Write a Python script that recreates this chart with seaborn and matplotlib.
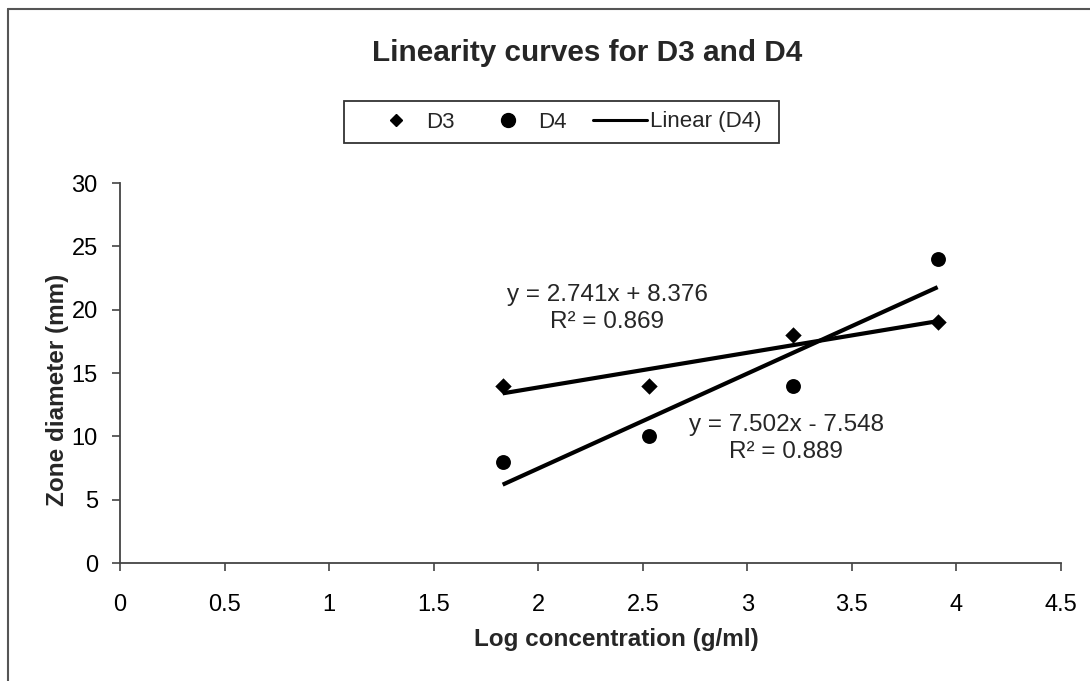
import numpy as np
import pandas as pd
import matplotlib
matplotlib.use("Agg")
import matplotlib.pyplot as plt
import seaborn as sns
from matplotlib.lines import Line2D
from matplotlib.patches import Rectangle

# ---- data ----
log_conc = [1.83, 2.53, 3.22, 3.91]
d3_zone = [14, 14, 18, 19]
d4_zone = [8, 10, 14, 24]
x_ticks = [0, 0.5, 1, 1.5, 2, 2.5, 3, 3.5, 4, 4.5]
y_ticks = [0, 5, 10, 15, 20, 25, 30]
eq_d3 = ["y = 2.741x + 8.376", "R\u00b2 = 0.869"]
eq_d4 = ["y = 7.502x - 7.548", "R\u00b2 = 0.889"]

df = pd.DataFrame({"x": log_conc, "D3": d3_zone, "D4": d4_zone})

sns.set_style("ticks")
plt.rcParams["font.family"] = ["Liberation Sans", "DejaVu Sans"]

W, H = 1090, 681
fig = plt.figure(figsize=(10.9, 6.81), dpi=100)
ax = fig.add_axes([120 / W, 1 - 563 / H, 941 / W, 380 / H])

sns.scatterplot(data=df, x="x", y="D3", marker="D", s=70, color="black",
                edgecolor="black", linewidth=0, ax=ax, zorder=3)
sns.scatterplot(data=df, x="x", y="D4", marker="o", s=115, color="black",
                edgecolor="black", linewidth=0, ax=ax, zorder=3)
sns.regplot(data=df, x="x", y="D3", scatter=False, ci=None, ax=ax,
            line_kws=dict(color="black", linewidth=3.0, solid_capstyle="butt"))
sns.regplot(data=df, x="x", y="D4", scatter=False, ci=None, ax=ax,
            line_kws=dict(color="black", linewidth=3.0, solid_capstyle="butt"))

ax.set_xlim(0, 4.5)
ax.set_ylim(0, 30)
ax.set_xticks(x_ticks)
ax.set_xticklabels([f"{t:g}" for t in x_ticks], fontsize=17)
ax.set_yticks(y_ticks)
ax.set_yticklabels([str(t) for t in y_ticks], fontsize=17)
ax.tick_params(axis="both", direction="out", length=6, width=1.2,
               color="#444444", labelcolor="black")
ax.tick_params(axis="x", pad=16)
ax.tick_params(axis="y", pad=10)
for side in ["top", "right"]:
    ax.spines[side].set_visible(False)
for side in ["left", "bottom"]:
    ax.spines[side].set_color("#444444")
    ax.spines[side].set_linewidth(1.3)

ax.set_xlabel("Log concentration (g/ml)", fontsize=17.5, fontweight="bold")
ax.set_ylabel("Zone diameter (mm)", fontsize=17.5, fontweight="bold")
ax.xaxis.set_label_coords(0.527, -0.171)
ax.yaxis.set_label_coords(-0.054, 0.455)

# trendline equations
ax.text(2.33, 21.15, eq_d3[0], ha="center", va="center", fontsize=17.5)
ax.text(2.33, 19.0, eq_d3[1], ha="center", va="center", fontsize=17.5)
ax.text(3.185, 10.9, eq_d4[0], ha="center", va="center", fontsize=17.5)
ax.text(3.185, 8.76, eq_d4[1], ha="center", va="center", fontsize=17.5)

fig.text(587 / W, 1 - 53 / H, "Linearity curves for D3 and D4", ha="center",
         va="center", fontsize=21.4, fontweight="bold")

handles = [
    Line2D([], [], marker="D", linestyle="none", color="black", markersize=6.5),
    Line2D([], [], marker="o", linestyle="none", color="black", markersize=10),
    Line2D([], [], color="black", linewidth=2.2),
]
leg = fig.legend(handles, ["D3", "D4", "Linear (D4)"], loc="center",
                 bbox_to_anchor=(565.5 / W, 1 - 122 / H), ncol=3, frameon=False,
                 fontsize=16, handlelength=2.4, handletextpad=0.15,
                 columnspacing=1.2, borderpad=0.3)
# legend frame box
fig.add_artist(Rectangle((344 / W, 1 - 143 / H), 435 / W, 42 / H,
                         transform=fig.transFigure, fill=False,
                         edgecolor="#333333", linewidth=1.3))

# outer chart border (left and top visible)
fig.add_artist(Line2D([8 / W, 8 / W], [0, 1 - 9 / H], transform=fig.transFigure,
                      color="#555555", linewidth=1.5))
fig.add_artist(Line2D([8 / W, 1], [1 - 9 / H, 1 - 9 / H], transform=fig.transFigure,
                      color="#555555", linewidth=1.5))

fig.savefig("out.png", dpi=100)
